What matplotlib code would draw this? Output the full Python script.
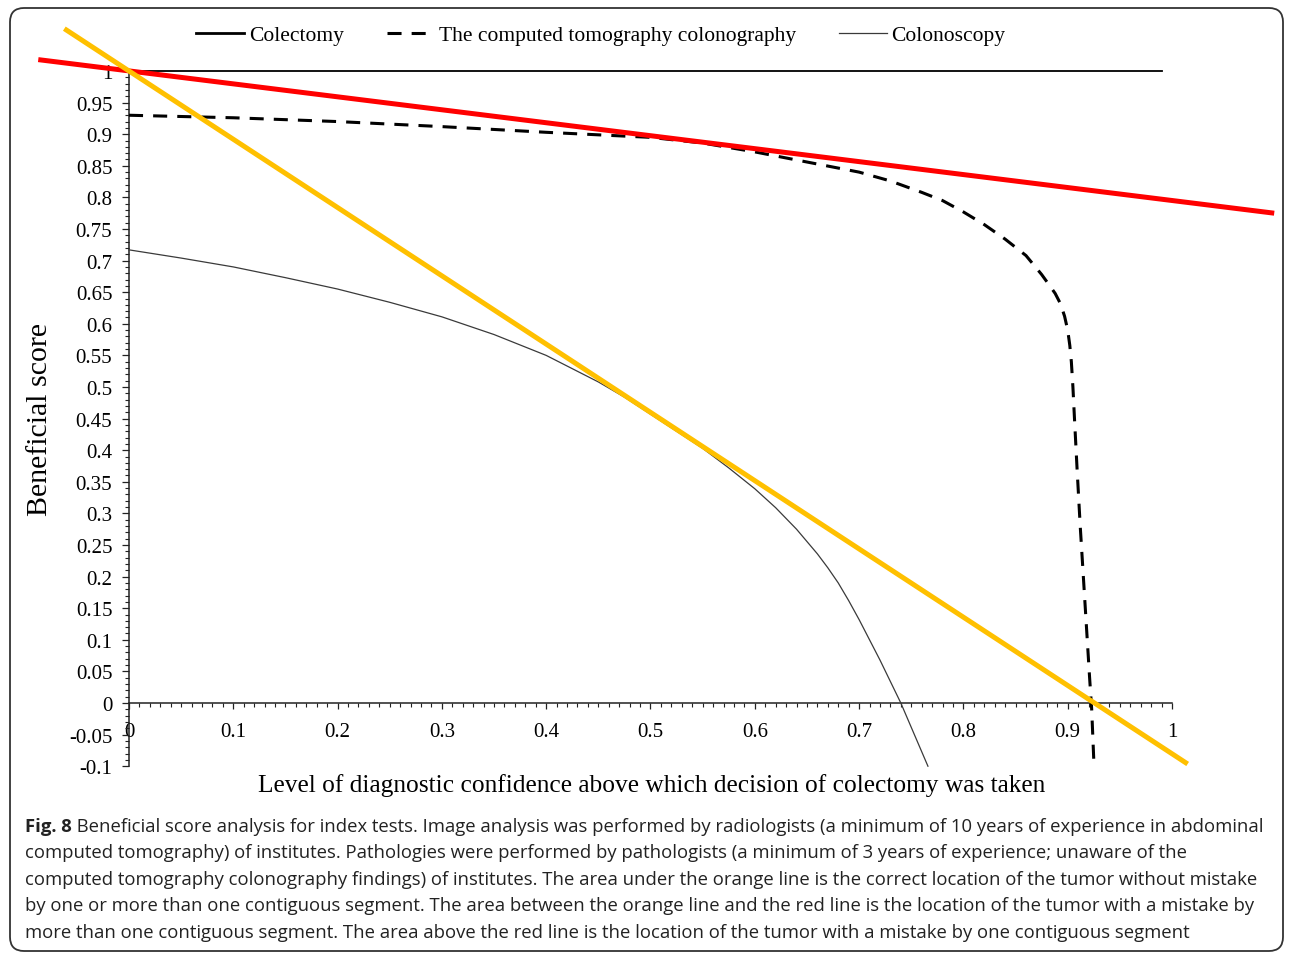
import numpy as np
import matplotlib
matplotlib.use('Agg')
import matplotlib.pyplot as plt
from matplotlib.lines import Line2D
from matplotlib.patches import FancyBboxPatch
from matplotlib.transforms import IdentityTransform
from matplotlib.ticker import FixedLocator, FuncFormatter

# ---------------- data ----------------
colectomy_x = [0.0, 0.99]
colectomy_y = [1.0, 1.0]

ctc_x = [0.0, 0.1, 0.2, 0.3, 0.4, 0.5, 0.55, 0.6, 0.65, 0.7, 0.73, 0.76, 0.78,
         0.8, 0.82, 0.84, 0.86, 0.875, 0.882, 0.888, 0.893, 0.897, 0.9, 0.902,
         0.9035, 0.905, 0.9065, 0.909, 0.912, 0.915, 0.918, 0.921, 0.923, 0.925]
ctc_y = [0.930, 0.926, 0.920, 0.912, 0.903, 0.895, 0.886, 0.872, 0.856, 0.840,
         0.826, 0.808, 0.795, 0.777, 0.757, 0.734, 0.708, 0.678, 0.662, 0.648,
         0.632, 0.612, 0.590, 0.566, 0.54, 0.50, 0.45, 0.37, 0.28, 0.20, 0.12,
         0.04, -0.01, -0.09]

colonoscopy_x = [0.0, 0.05, 0.1, 0.15, 0.2, 0.25, 0.3, 0.35, 0.4, 0.45, 0.475,
                 0.5, 0.525, 0.55, 0.575, 0.6, 0.62, 0.64, 0.66, 0.67, 0.68,
                 0.69, 0.7, 0.72, 0.74, 0.766]
colonoscopy_y = [0.717, 0.704, 0.690, 0.673, 0.655, 0.634, 0.611, 0.583, 0.550,
                 0.508, 0.484, 0.457, 0.430, 0.403, 0.372, 0.339, 0.309, 0.275,
                 0.236, 0.214, 0.190, 0.162, 0.132, 0.068, 0.0, -0.1]

red_x = [-0.087, 1.098]
red_y = [1.018, 0.775]
orange_x = [-0.062, 1.015]
orange_y = [1.067, -0.0965]

legend_labels = ['Colectomy', 'The computed tomography colonography', 'Colonoscopy']
x_major = [0, 0.1, 0.2, 0.3, 0.4, 0.5, 0.6, 0.7, 0.8, 0.9, 1.0]
y_major = [-0.1, -0.05, 0, 0.05, 0.1, 0.15, 0.2, 0.25, 0.3, 0.35, 0.4, 0.45,
           0.5, 0.55, 0.6, 0.65, 0.7, 0.75, 0.8, 0.85, 0.9, 0.95, 1.0]
x_label = 'Level of diagnostic confidence above which decision of colectomy was taken'
y_label = 'Beneficial score'
caption_bold = 'Fig. 8'
caption_lines = [
    ' Beneficial score analysis for index tests. Image analysis was performed by radiologists (a minimum of 10 years of experience in abdominal',
    'computed tomography) of institutes. Pathologies were performed by pathologists (a minimum of 3 years of experience; unaware of the',
    'computed tomography colonography findings) of institutes. The area under the orange line is the correct location of the tumor without mistake',
    'by one or more than one contiguous segment. The area between the orange line and the red line is the location of the tumor with a mistake by',
    'more than one contiguous segment. The area above the red line is the location of the tumor with a mistake by one contiguous segment',
]

# ---------------- layout ----------------
W, H, DPI = 1292, 954, 100
fig = plt.figure(figsize=(W / DPI, H / DPI), dpi=DPI)
fig.patch.set_facecolor('white')

X0PX, XS = 129.0, 1043.0   # pixel of x=0, pixels per unit
Y0PX, YS = 704.0, 632.0    # pixel of y=0, pixels per unit
xlim = (-0.09, 1.10)
ylim = (-0.11, 1.08)
lpx = X0PX + XS * xlim[0]
rpx = X0PX + XS * xlim[1]
tpx = Y0PX - YS * ylim[1]
bpx = Y0PX - YS * ylim[0]
ax = fig.add_axes([lpx / W, 1 - bpx / H, (rpx - lpx) / W, (bpx - tpx) / H])
ax.set_xlim(*xlim)
ax.set_ylim(*ylim)
ax.patch.set_visible(False)

serif = 'Liberation Serif'

for s in ['top', 'right']:
    ax.spines[s].set_visible(False)
ax.spines['left'].set_position(('data', 0))
ax.spines['bottom'].set_position(('data', 0))
ax.spines['left'].set_bounds(-0.1, 1.0)
ax.spines['bottom'].set_bounds(0, 1.0)
for s in ['left', 'bottom']:
    ax.spines[s].set_linewidth(1.1)
    ax.spines[s].set_color('#222222')

ax.xaxis.set_major_locator(FixedLocator(x_major))
ax.xaxis.set_minor_locator(FixedLocator(np.round(np.arange(0, 1.0001, 0.01), 2)))
ax.yaxis.set_major_locator(FixedLocator(y_major))
ax.yaxis.set_minor_locator(FixedLocator(np.round(np.arange(-0.1, 1.0001, 0.01), 2)))
fmt = FuncFormatter(lambda v, p: '%g' % round(v, 2))
ax.xaxis.set_major_formatter(fmt)
ax.yaxis.set_major_formatter(fmt)
ax.tick_params(axis='x', which='major', direction='out', length=4.5, width=0.9,
               pad=9, labelsize=15, color='#222222')
ax.tick_params(axis='x', which='minor', direction='out', length=2.8, width=0.8,
               color='#222222')
ax.tick_params(axis='y', which='major', direction='out', length=5, width=0.9,
               pad=7, labelsize=15, color='#222222')
ax.tick_params(axis='y', which='minor', direction='out', length=2.8, width=0.8,
               color='#222222')
for lab in ax.get_xticklabels() + ax.get_yticklabels():
    lab.set_fontfamily(serif)

# ---------------- lines ----------------
ax.plot(colectomy_x, colectomy_y, color='black', lw=1.3, zorder=3)
ax.plot(ctc_x, ctc_y, color='black', lw=2.2, linestyle=(0, (4.6, 3.3)), zorder=3)
ax.plot(colonoscopy_x, colonoscopy_y, color='#3a3a3a', lw=0.9, zorder=3)
ax.plot(red_x, red_y, color='#ff0000', lw=3.6, zorder=4, solid_capstyle='butt')
ax.plot(orange_x, orange_y, color='#ffc000', lw=3.6, zorder=5, solid_capstyle='butt')

# ---------------- axis labels ----------------
def ax_frac(px_x, px_y):
    return ((px_x - lpx) / (rpx - lpx), (bpx - px_y) / (bpx - tpx))

ax.set_xlabel(x_label, fontsize=18.3, fontfamily=serif)
ax.xaxis.label.set_va('center')
ax.xaxis.set_label_coords(*ax_frac(652, 786))
ax.set_ylabel(y_label, fontsize=21.5, fontfamily=serif)
ax.yaxis.label.set_va('center')
ax.yaxis.set_label_coords(*ax_frac(40, 420))

# ---------------- legend ----------------
leg_fs = 15.5
handles = [
    Line2D([], [], color='black', lw=2.0),
    Line2D([], [], color='black', lw=2.2, linestyle=(0, (4.6, 3.3))),
    Line2D([], [], color='#3a3a3a', lw=0.9),
]
fig.legend(handles, legend_labels, loc='center', bbox_to_anchor=(601 / W, 1 - 36 / H),
           ncol=3, frameon=False, prop={'family': serif, 'size': leg_fs},
           handlelength=48 / (leg_fs * DPI / 72), handletextpad=0.2,
           columnspacing=2.0, borderpad=0, borderaxespad=0)

# ---------------- caption ----------------
renderer = fig.canvas.get_renderer()
cap_family = 'Open Sans'
targets = [1240, 1212, 1241, 1250, 1182]
ref_size = 12.0


def text_width(s, weight='normal'):
    t = fig.text(0, 0, s, fontsize=ref_size, fontfamily=cap_family, fontweight=weight)
    w = t.get_window_extent(renderer).width
    t.remove()
    return w


ratios = []
for i, line in enumerate(caption_lines):
    w = text_width(line)
    if i == 0:
        w += text_width(caption_bold, 'bold')
    ratios.append(targets[i] / w)
cap_size = ref_size * float(min(ratios)) * 0.994

baselines = [832, 858.5, 885, 911.5, 938]
x_start = 25
tb = fig.text(x_start / W, 1 - baselines[0] / H, caption_bold, fontsize=cap_size,
              fontfamily=cap_family, fontweight='bold', va='baseline', color='#222222')
bw = tb.get_window_extent(renderer).width
for i, line in enumerate(caption_lines):
    x0 = x_start + (bw if i == 0 else 0)
    fig.text(x0 / W, 1 - baselines[i] / H, line, fontsize=cap_size,
             fontfamily=cap_family, va='baseline', color='#222222')

# ---------------- border ----------------
border = FancyBboxPatch((10, 2), 1273, 943, boxstyle='round,pad=0,rounding_size=14',
                        transform=IdentityTransform(), fill=False,
                        edgecolor='#333333', linewidth=1.3)
fig.add_artist(border)

fig.savefig('out.png', dpi=DPI, facecolor='white')
